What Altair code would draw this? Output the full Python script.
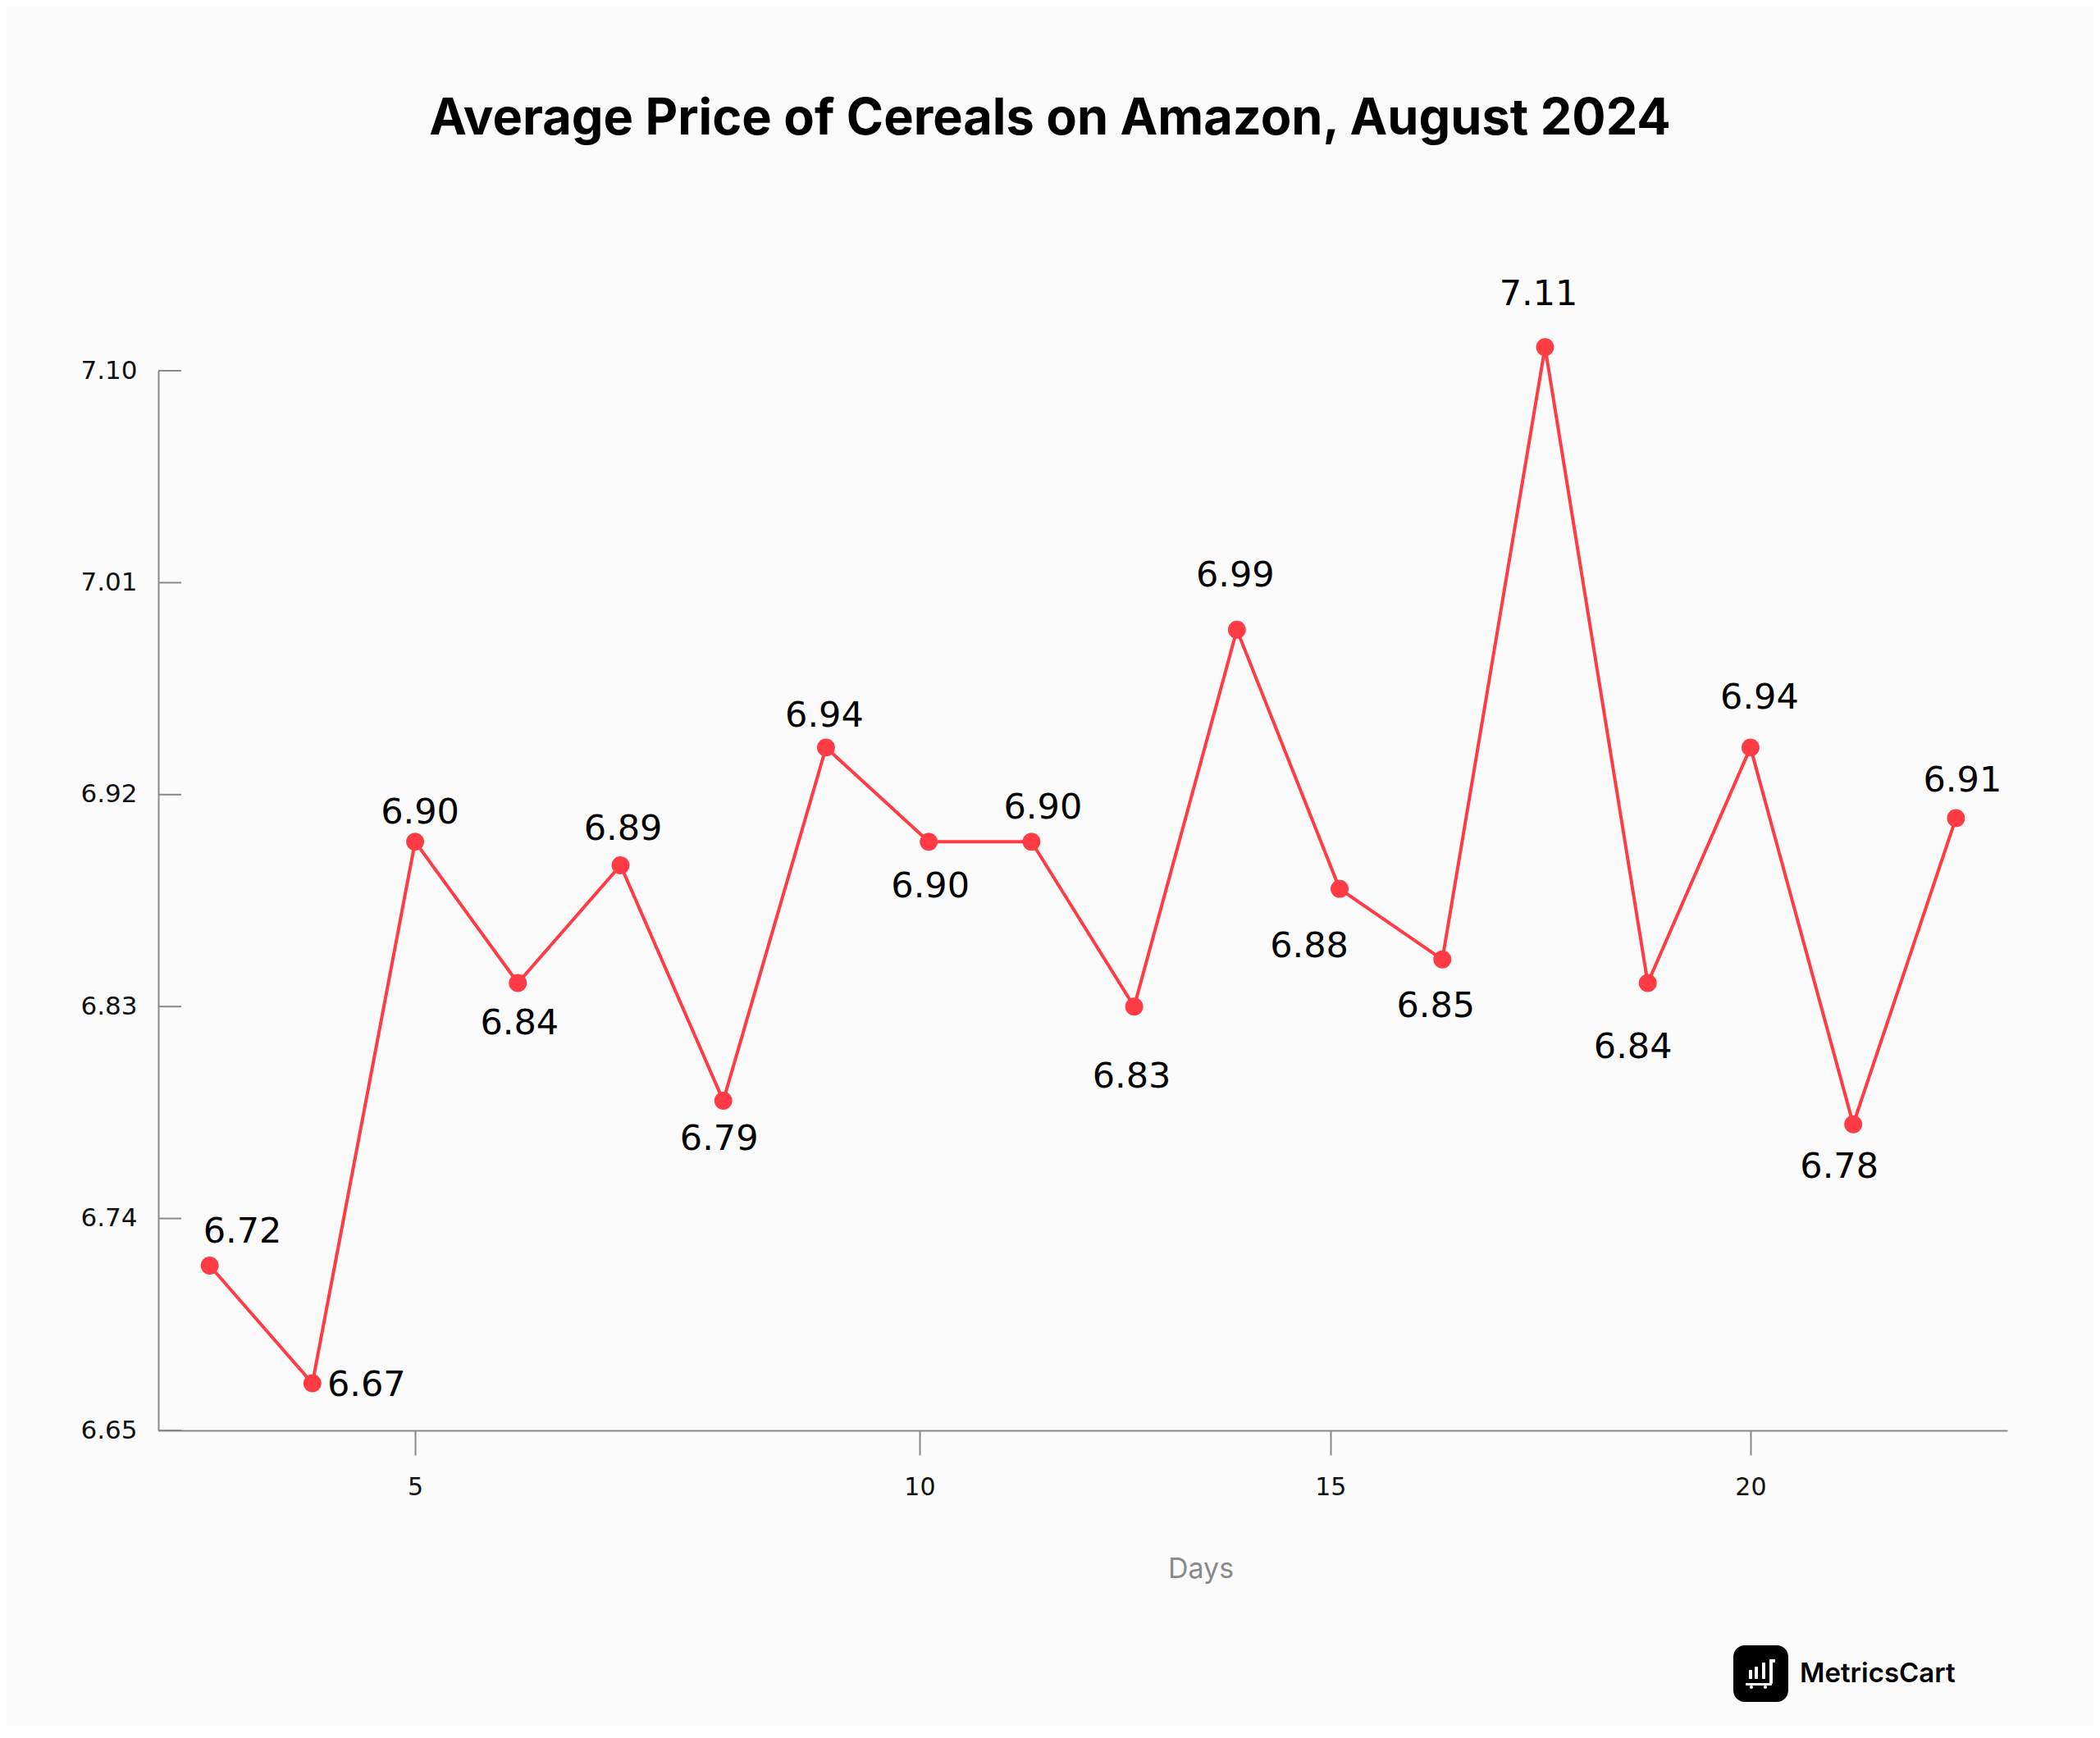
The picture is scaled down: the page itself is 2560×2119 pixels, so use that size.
import altair as alt
import pandas as pd

TITLE = "Average Price of Cereals on Amazon, August 2024"
POINTS = list(range(1, 19))
PRICES = [6.72, 6.67, 6.90, 6.84, 6.89, 6.79, 6.94, 6.90, 6.90, 6.83, 6.99, 6.88, 6.85, 7.11, 6.84, 6.94, 6.78, 6.91]
Y_TICKS = [6.65, 6.74, 6.83, 6.92, 7.01, 7.10]
X_TICK_POS = [3, 7.91, 11.91, 16]
X_TICK_LABELS = ["5", "10", "15", "20"]
LABEL_OFFSETS = [(40, -43), (66, 0), (6, -37), (2, 48), (3, -46), (-5, 45), (-2, -40), (2, 53),
                 (14, -43), (-3, 84), (-2, -68), (-37, 68), (-8, 55), (-8, -66), (-18, 77), (11, -62), (-17, 50), (8, -48)]

BG = "#FBFBFB"
RED = "#FF3B45"
AXIS = "#8A8A8A"
W, H = 2254, 1292
FONT = "DejaVu Sans"

df = pd.DataFrame({"point": POINTS, "price": PRICES})
df["label"] = df["price"].map(lambda v: f"{v:.2f}")

label_map = "{" + ",".join(f"'{p}':'{l}'" for p, l in zip(X_TICK_POS, X_TICK_LABELS)) + "}"
x_scale = alt.Scale(domain=[0.5, 18.5], nice=False, zero=False)
y_scale = alt.Scale(domain=[6.65, 7.10], nice=False, zero=False)

x_enc = alt.X("point:Q", scale=x_scale, axis=alt.Axis(
    values=X_TICK_POS, labelExpr=f"{label_map}[datum.value]", title=None, grid=False,
    domainColor=AXIS, domainWidth=2, tickColor=AXIS, tickWidth=2, tickSize=30,
    labelFont=FONT, labelFontSize=30, labelColor="#111111", labelPadding=24,
    labelOverlap=False, labelFlush=False,
))
y_enc = alt.Y("price:Q", scale=y_scale, axis=alt.Axis(
    values=Y_TICKS, format=".2f", title=None, grid=False,
    domainColor=AXIS, domainWidth=2, ticks=False,
    labelFont=FONT, labelFontSize=31, labelColor="#111111", labelPadding=26, labelOverlap=False,
))

base = alt.Chart(df)
line = base.mark_line(color=RED, strokeWidth=4, clip=False).encode(x=x_enc, y=y_enc)
pts = base.mark_circle(color=RED, opacity=1, size=480, clip=False).encode(x="point:Q", y="price:Q")

y_tick_df = pd.DataFrame({"t": Y_TICKS})
y_ticks = alt.Chart(y_tick_df).mark_rule(color=AXIS, strokeWidth=2).encode(
    y=alt.Y("t:Q", scale=y_scale), x=alt.value(0), x2=alt.value(28))

labels = []
for p, (dx, dy) in zip(POINTS, LABEL_OFFSETS):
    labels.append(
        alt.Chart(df[df["point"] == p]).mark_text(
            font=FONT, fontSize=43, color="#000000", dx=dx, dy=dy + 2, clip=False
        ).encode(x="point:Q", y="price:Q", text="label:N")
    )

# Logo at the lower right, in pixels relative to the plot area
def lrect(x, x2, y, y2, color, radius=0):
    return alt.Chart(pd.DataFrame({"a": [0]})).mark_rect(color=color, cornerRadius=radius).encode(
        x=alt.value(x - 193), x2=alt.value(x2 - 193), y=alt.value(y - 452), y2=alt.value(y2 - 452))

logo = [
    lrect(2113, 2180, 2006, 2075, "#000000", 14),
    lrect(2132, 2136, 2036, 2047, "#FFFFFF", 1),
    lrect(2139, 2143, 2032, 2047, "#FFFFFF", 1),
    lrect(2148, 2152, 2027, 2047, "#FFFFFF", 1),
    lrect(2157, 2161, 2024, 2053, "#FFFFFF", 1),
    lrect(2157, 2164, 2023, 2027, "#FFFFFF", 1),
    lrect(2128, 2160, 2052, 2055, "#FFFFFF", 1),
    lrect(2133, 2137, 2055, 2059, "#FFFFFF", 2),
    lrect(2150, 2154, 2055, 2059, "#FFFFFF", 2),
]
logo_text = alt.Chart(pd.DataFrame({"t": ["MetricsCart"]})).mark_text(
    font="Inter", fontSize=33, fontWeight=600, color="#000000", align="left", baseline="middle"
).encode(x=alt.value(2194 - 193), y=alt.value(2041 - 452), text="t:N")

title = alt.Chart(pd.DataFrame({"t": [TITLE]})).mark_text(
    font="Inter", fontSize=61.3, fontWeight=700, color="#000000", align="center", baseline="middle"
).encode(x=alt.value(1280 - 193), y=alt.value(146 - 452), text="t:N")

days = alt.Chart(pd.DataFrame({"t": ["Days"]})).mark_text(
    font="Inter", fontSize=34, color="#8A8A8A", align="center", baseline="middle"
).encode(x=alt.value(1464 - 193), y=alt.value(1914 - 452), text="t:N")

chart = alt.layer(line, y_ticks, pts, *labels, *logo, logo_text, title, days).properties(
    width=W, height=H,
    background=BG,
    padding={"left": 185, "top": 444, "right": 105, "bottom": 360},
    autosize=alt.AutoSizeParams(type="none"),
).configure_view(stroke=None)

chart.save("out.html", embed_options={"renderer": "svg", "actions": False})
